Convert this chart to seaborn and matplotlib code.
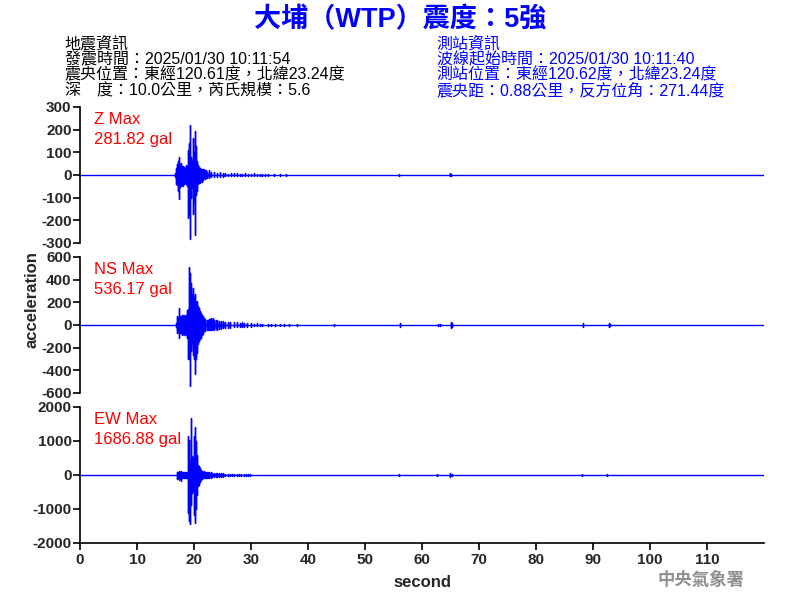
import numpy as np
import pandas as pd
import matplotlib
matplotlib.use("Agg")
import matplotlib.pyplot as plt
import seaborn as sns

# ---------------- data (envelope peaks) ----------------
z_t = [16.75,16.9,17.05,17.2,17.4,17.55,17.7,17.85,18.0,18.15,18.3,18.45,18.6,18.75,18.9,
       19.03,19.15,19.27,19.4,19.56,19.7,19.8,19.91,20.03,20.15,20.32,20.45,20.61,20.75,20.91,
       21.05,21.2,21.35,21.5,21.65,21.8,21.95,22.1,22.3,22.65,23.0,23.5,24.0,24.5,25.0,
       25.5,26.0,26.5,27.0,27.5,28.0,28.5,29.0,29.5,30.0,30.5,31.0,31.5,32.0,32.5,
       33.0,34.0,35.0,36.1,55.9,64.9,65.1]
z_hi = [10,30,50,60,78,45,55,40,35,40,35,30,45,40,60,
        110,140,222,80,50,60,90,163,100,193,130,60,60,45,37,
        30,28,25,28,20,26,18,20,15,20,12,12,10,12,8,
        10,6,8,7,8,6,5,8,6,6,7,4,5,6,4,
        5,4,3,5,3,8,5]
z_lo = [-10,-40,-45,-70,-106,-55,-50,-45,-50,-35,-40,-35,-40,-50,-66,
        -190,-170,-281.82,-100,-60,-55,-110,-170,-120,-265,-90,-70,-58,-40,-37,
        -35,-25,-30,-22,-20,-15,-18,-15,-12,-15,-10,-8,-10,-8,-8,
        -6,-6,-6,-5,-6,-6,-5,-5,-5,-4,-5,-4,-4,-5,-3,
        -3,-3,-3,-4,-3,-6,-5]

ns_t = [16.81,16.95,17.1,17.25,17.4,17.55,17.7,17.85,18.0,18.15,18.3,18.45,18.6,18.75,18.9,
        19.0,19.1,19.27,19.45,19.62,19.74,19.9,20.03,20.15,20.27,20.38,20.5,20.61,20.75,20.9,
        21.05,21.2,21.35,21.5,21.65,21.8,22.0,22.2,22.4,22.6,22.8,22.95,23.1,23.25,23.5,
        23.8,24.1,24.4,24.7,25.0,25.4,25.9,26.4,27.0,27.5,28.0,28.4,28.8,29.3,30.0,
        30.5,31.0,31.5,32.0,32.9,33.5,34.2,35.0,35.8,36.7,38.0,44.5,56.2,62.8,63.1,
        65.0,65.3,88.3,92.8,93.0]
ns_hi = [20,50,76,60,150,80,76,90,70,85,90,80,85,135,130,
         140,515,459,370,267,326,223,250,273,200,194,210,194,170,150,
         120,106,90,80,70,62,50,45,45,50,55,62,45,62,45,
         40,45,35,35,32,30,30,28,22,22,20,22,18,15,15,
         12,15,10,12,10,8,10,8,6,8,5,5,15,12,8,
         23,15,15,20,10]
ns_lo = [-20,-45,-70,-60,-115,-70,-70,-85,-70,-80,-85,-75,-85,-115,-115,
         -297,-300,-536.17,-232,-160,-180,-262,-300,-432,-300,-276,-250,-232,-170,-144,
         -120,-115,-90,-80,-65,-56,-50,-45,-45,-40,-41,-41,-40,-35,-45,
         -35,-45,-35,-35,-30,-28,-30,-25,-22,-20,-20,-18,-16,-15,-15,
         -12,-12,-10,-10,-10,-8,-8,-8,-6,-6,-5,-5,-15,-12,-8,
         -23,-15,-15,-20,-10]

ew_t = [16.99,17.1,17.25,17.4,17.55,17.69,17.85,18.0,18.15,18.3,18.45,18.6,18.74,18.86,18.95,
        19.03,19.12,19.2,19.33,19.44,19.56,19.68,19.8,19.92,20.03,20.12,20.2,20.3,20.38,20.5,
        20.61,20.75,20.9,21.05,21.2,21.35,21.5,21.7,21.9,22.1,22.3,22.5,22.7,22.95,23.2,
        23.5,23.8,24.1,24.4,24.7,25.0,25.4,25.9,26.3,26.7,27.1,27.5,27.9,28.3,28.7,
        29.1,29.5,29.85,55.9,62.6,64.9,65.35,88.0,92.5]
ew_hi = [40,100,80,110,90,127,90,80,70,80,75,80,80,304,500,
         1137,800,1039,400,1686.88,598,550,500,800,1137,1200,1401,1000,794,600,
         402,300,255,200,157,130,100,110,90,100,95,80,90,100,60,
         60,55,60,50,55,45,40,40,35,40,38,35,40,35,30,
         35,40,20,40,40,60,30,30,30]
ew_lo = [-40,-110,-90,-137,-100,-166,-100,-90,-80,-85,-80,-80,-90,-235,-500,
         -1117,-900,-1362,-1440,-872,-578,-520,-480,-700,-1166,-1250,-1411,-1000,-872,-600,
         -480,-320,-284,-200,-137,-120,-100,-100,-90,-95,-90,-80,-85,-90,-60,
         -55,-60,-55,-50,-50,-45,-40,-40,-35,-35,-35,-35,-35,-30,-30,
         -30,-30,-20,-40,-40,-60,-30,-30,-30]

components = ["Z", "NS", "EW"]
max_labels = ["Z Max\n281.82 gal", "NS Max\n536.17 gal", "EW Max\n1686.88 gal"]
y_limits = [(-300, 300), (-600, 600), (-2000, 2000)]
y_ticks = [[-300, -200, -100, 0, 100, 200, 300],
           [-600, -400, -200, 0, 200, 400, 600],
           [-2000, -1000, 0, 1000, 2000]]
x_ticks = [0, 10, 20, 30, 40, 50, 60, 70, 80, 90, 100, 110]
t_start, t_end = 0, 120

title = "大埔（WTP）震度：5強"
left_info = ["地震資訊", "發震時間：2025/01/30 10:11:54",
             "震央位置：東經120.61度，北緯23.24度", "深　度：10.0公里，芮氏規模：5.6"]
right_info = ["測站資訊", "波線起始時間：2025/01/30 10:11:40",
              "測站位置：東經120.62度，北緯23.24度", "震央距：0.88公里，反方位角：271.44度"]


def trace_frame(ts, his, los):
    xs, ys = [t_start], [0.0]
    for t, h, l in zip(ts, his, los):
        xs += [t, t, t, t]
        ys += [0.0, h, l, 0.0]
    xs.append(t_end)
    ys.append(0.0)
    return pd.DataFrame({"second": xs, "acceleration": ys})


frames = [trace_frame(z_t, z_hi, z_lo), trace_frame(ns_t, ns_hi, ns_lo),
          trace_frame(ew_t, ew_hi, ew_lo)]

# ---------------- figure ----------------
sns.set_theme(style="white")
plt.rcParams["font.family"] = ["Liberation Sans", "Noto Sans CJK TC", "DejaVu Sans"]
plt.rcParams["axes.unicode_minus"] = False

fig = plt.figure(figsize=(8, 6), dpi=100)
rects = [[0.1, 0.595, 0.855, 0.2267],
         [0.1, 0.345, 0.855, 0.2267],
         [0.1, 0.095, 0.855, 0.2267]]
blue = "#0000FF"

axes = []
for i, rect in enumerate(rects):
    ax = fig.add_axes(rect)
    sns.lineplot(data=frames[i], x="second", y="acceleration", ax=ax, sort=False,
                 estimator=None, color=blue, linewidth=1.0)
    ax.set_xlim(t_start, t_end)
    ax.set_ylim(*y_limits[i])
    ax.set_yticks(y_ticks[i])
    ax.set_yticklabels([str(v) for v in y_ticks[i]], fontsize=11, fontweight="bold")
    for s in ["top", "right"]:
        ax.spines[s].set_visible(False)
    ax.spines["left"].set_color("black")
    ax.spines["left"].set_linewidth(1.2)
    ax.tick_params(axis="y", direction="out", length=5, width=1.2, color="black",
                   left=True, pad=1)
    ax.set_ylabel("")
    ax.set_xlabel("")
    ax.text(0.02, 0.965, max_labels[i], transform=ax.transAxes, color="red",
            fontsize=12, va="top", ha="left", linespacing=1.4)
    if i < 2:
        ax.spines["bottom"].set_visible(False)
        ax.set_xticks([])
    else:
        ax.spines["bottom"].set_color("black")
        ax.spines["bottom"].set_linewidth(1.2)
        ax.set_xticks(x_ticks)
        ax.set_xticklabels([str(v) for v in x_ticks], fontsize=11, fontweight="bold")
        ax.tick_params(axis="x", direction="out", length=5, width=1.2, color="black",
                       bottom=True, pad=2)
        ax.set_xlabel("second", fontsize=12, fontweight="bold", labelpad=6)
    axes.append(ax)

fig.text(0.04, 0.5, "acceleration", rotation=90, ha="center", va="center",
         fontsize=12, fontweight="bold")

fig.text(0.5, 0.966, title, ha="center", va="center", color=blue, fontsize=19.5,
         fontweight="bold")
line_y = [0.927, 0.901, 0.875, 0.849]
for k in range(4):
    fig.text(0.081, line_y[k], left_info[k], ha="left", va="center", color="black",
             fontsize=11.5)
    fig.text(0.546, line_y[k], right_info[k], ha="left", va="center", color=blue,
             fontsize=11.5)

fig.text(0.876, 0.033, "中央氣象署", ha="center", va="center", color="#8f8f8f",
         fontsize=12.5, fontweight="bold", family=["Noto Sans CJK TC"])

fig.savefig("out.png", dpi=100)
